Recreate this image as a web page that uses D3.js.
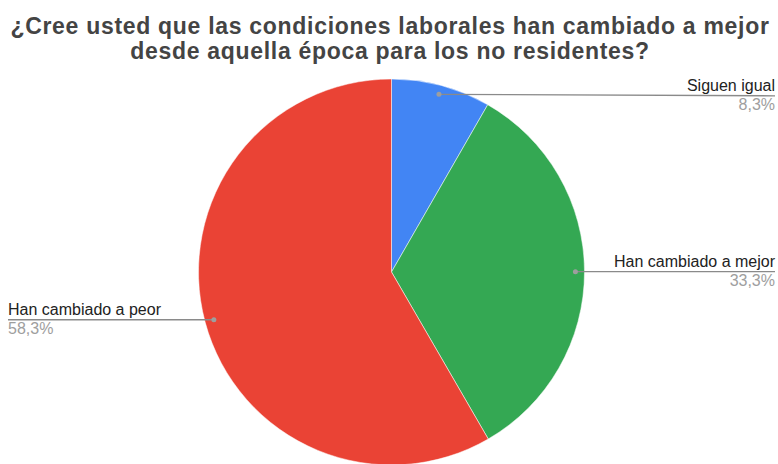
<!DOCTYPE html>
<html><head><meta charset="utf-8">
<script src="https://cdn.jsdelivr.net/npm/d3@7/dist/d3.min.js"></script>
<style>body{margin:0;background:#fff}svg{display:block}</style>
</head><body>
<svg id="c" width="778" height="464"></svg>
<script>
const titleLines = ["¿Cree usted que las condiciones laborales han cambiado a mejor", "desde aquella época para los no residentes?"];
const categories = ["Siguen igual", "Han cambiado a mejor", "Han cambiado a peor"];
const values = [8.3, 33.3, 58.3];
const pctLabels = ["8,3%", "33,3%", "58,3%"];
const colors = ["#4285F4", "#34A853", "#EA4335"];

const svg = d3.select("#c");
const cx = 391.5, cy = 272, r = 193;

svg.append("g").selectAll("text").data(titleLines).join("text")
  .attr("x", 390).attr("y", (d, i) => 33.5 + i * 25)
  .attr("text-anchor", "middle")
  .attr("font-family", "Liberation Sans, Arial, sans-serif")
  .attr("font-weight", "bold").attr("font-size", 23).attr("fill", "#444")
  .attr("letter-spacing", 0.7)
  .text(d => d);

const data = categories.map((c, i) => ({name: c, value: values[i], pct: pctLabels[i], color: colors[i]}));
const pie = d3.pie().sort(null).value(d => d.value);
const arcs = pie(data);
const arc = d3.arc().innerRadius(0).outerRadius(r);

const g = svg.append("g").attr("transform", `translate(${cx},${cy})`);
g.selectAll("path").data(arcs).join("path")
  .attr("d", arc).attr("fill", d => d.data.color)
  .attr("stroke", "#fff").attr("stroke-width", 0.5);

const dotR = r * 0.953;
const lab = svg.append("g");
arcs.forEach(a => {
  const m = (a.startAngle + a.endAngle) / 2;
  const dx = cx + Math.sin(m) * dotR, dy = cy - Math.cos(m) * dotR;
  const right = Math.sin(m) > 0;
  const ex = right ? 775 : 8;
  const ly = dy + (right && a.index === 0 ? 1.5 : 0);
  lab.append("line").attr("x1", dx).attr("y1", dy).attr("x2", ex).attr("y2", ly)
    .attr("stroke", "#8a8a8a").attr("stroke-width", 1.3);
  lab.append("circle").attr("cx", dx).attr("cy", dy).attr("r", 2.5).attr("fill", "#9e9e9e");
  lab.append("text").attr("x", ex).attr("y", ly - 5)
    .attr("text-anchor", right ? "end" : "start")
    .attr("font-family", "Liberation Sans, Arial, sans-serif").attr("font-size", 16).attr("fill", "#222")
    .text(a.data.name);
  lab.append("text").attr("x", ex).attr("y", ly + 14.5)
    .attr("text-anchor", right ? "end" : "start")
    .attr("font-family", "Liberation Sans, Arial, sans-serif").attr("font-size", 16).attr("fill", "#9e9e9e")
    .text(a.data.pct);
});
</script>
</body></html>
